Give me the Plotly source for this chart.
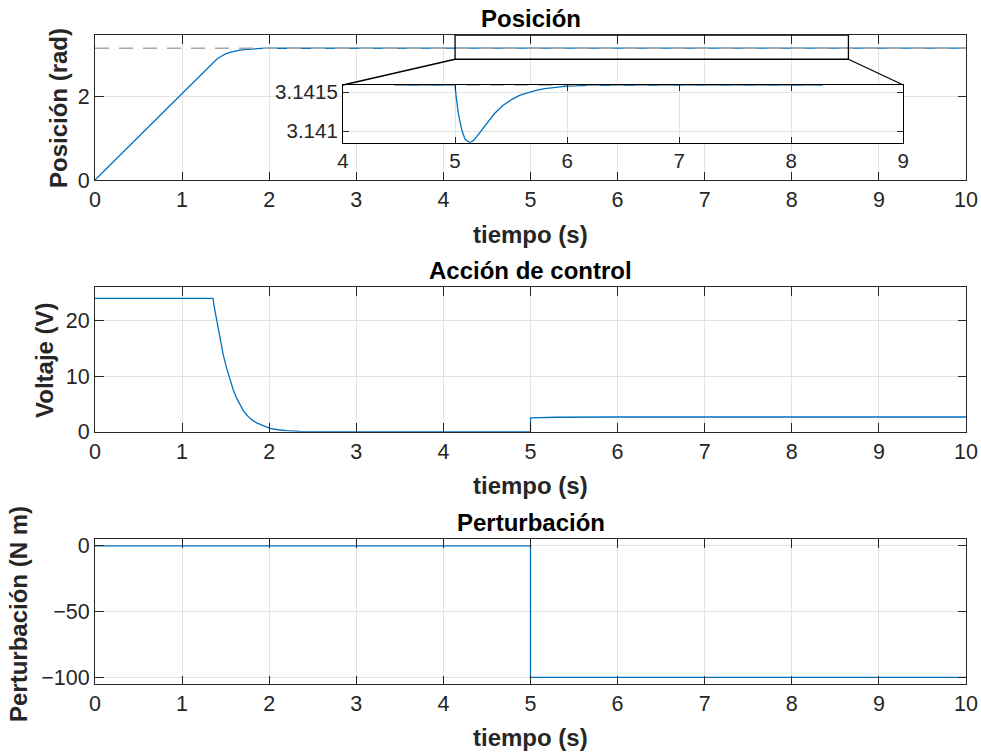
import plotly.graph_objects as go

# ---------------- data ----------------
pos_t = [0, 0.5, 1.0, 1.35, 1.40, 1.45, 1.50, 1.55, 1.60, 1.65,
         1.70, 1.80, 1.90, 2.00, 2.20, 2.50, 3.00, 4.00, 4.46, 5.00,
         5.01, 5.03, 5.06, 5.09, 5.13, 5.16, 5.19, 5.24, 5.28, 5.35,
         5.43, 5.50, 5.58, 5.65, 5.73, 5.80, 5.88, 6.00, 6.20, 6.50,
         7.00, 8.00, 8.28, 9.00, 10.0]
pos_rad = [0, 1.035, 2.07, 2.79, 2.885, 2.95, 3.005, 3.04, 3.07, 3.09,
           3.105, 3.125, 3.135, 3.1395, 3.1412, 3.14155, 3.1415927, 3.1415927, 3.1415927, 3.1415927,
           3.1414427, 3.1412227, 3.1410127, 3.1408927, 3.1408527, 3.1408727, 3.1409227, 3.1410127, 3.1410977, 3.1412227,
           3.1413327, 3.1414027, 3.1414627, 3.1414977, 3.1415277, 3.1415477, 3.1415627, 3.1415797, 3.1415887, 3.1415927,
           3.1415927, 3.1415927, 3.1415927, 3.1415927, 3.1415927]
ref_rad = 3.1415927

volt_t = [0, 1.355, 1.37, 1.397, 1.435, 1.473, 1.512, 1.55, 1.588, 1.627, 1.665,
          1.703, 1.74, 1.78, 1.82, 1.856, 1.932, 2.01, 2.1, 2.2, 2.35, 2.6, 3.0,
          5.0, 5.0, 5.3, 6.0, 10.0]
volt_v = [24, 24, 22.4, 20.1, 16.8, 13.8, 11.4, 9.3, 7.5, 6.0, 4.8,
          3.8, 3.05, 2.4, 1.95, 1.6, 1.1, 0.6, 0.35, 0.18, 0.07, 0.02, 0.0,
          0.0, 2.5, 2.6, 2.65, 2.65]

dist_t = [0, 5, 5, 10]
dist_nm = [0, 0, -100, -100]

x_ticks = [0, 1, 2, 3, 4, 5, 6, 7, 8, 9, 10]
pos_yticks = [0, 2]
volt_yticks = [0, 10, 20]
dist_yticks = [-100, -50, 0]
inset_xticks = [4, 5, 6, 7, 8, 9]
inset_yticks = [3.141, 3.1415]
inset_yticktext = ["3.141", "3.1415"]

titles = ["Posición", "Acción de control", "Perturbación"]
ylabels = ["Posición (rad)", "Voltaje (V)", "Perturbación (N m)"]
xlabel = "tiempo (s)"

zoom_box_x = [4.134, 8.65]
zoom_box_y = [2.878, 3.4558]
inset_data_t = [4.46, 8.28]

# ---------------- layout geometry ----------------
W, H = 981, 753
ML, MR, MT, MB = 95, 15, 35, 69
PH = H - MT - MB


def py(ypx):
    return (H - MB - ypx) / PH


def px(xpx):
    return (xpx - ML) / (W - ML - MR)


dom_top = [py(180), 1.0]
dom_mid = [py(431.7), py(287.3)]
dom_bot = [0.0, py(539.3)]
inset_dx = [px(343), px(903.3)]
inset_dy = [py(142.7), py(85)]

rng_top = [0, 3.4558]
rng_mid = [0, 26]
rng_bot = [-105, 5]
rng_x = [0, 10]
rng_inset_x = [4, 9]
rng_inset_y = [3.14085, 3.141594]

BLUE = "#0072BD"
GRAY = "#a6a6a6"
AX = "#262626"
FONT = "Liberation Sans, Arial, sans-serif"

fig = go.Figure()

# main position
fig.add_trace(go.Scatter(x=pos_t, y=pos_rad, mode="lines",
                         line=dict(color=BLUE, width=1.3), xaxis="x", yaxis="y", showlegend=False))
fig.add_trace(go.Scatter(x=[pos_t[0], pos_t[-1]], y=[ref_rad, ref_rad], mode="lines",
                         line=dict(color=GRAY, width=1.5, dash="14px,10px"),
                         xaxis="x", yaxis="y", showlegend=False))
# inset
it = [t for t in pos_t if inset_data_t[0] <= t <= inset_data_t[1]]
iv = [v for t, v in zip(pos_t, pos_rad) if inset_data_t[0] <= t <= inset_data_t[1]]
fig.add_trace(go.Scatter(x=it, y=iv, mode="lines",
                         line=dict(color=BLUE, width=1.3), xaxis="x4", yaxis="y4", showlegend=False))
fig.add_trace(go.Scatter(x=[it[0], it[-1]], y=[ref_rad, ref_rad], mode="lines",
                         line=dict(color=GRAY, width=1.5, dash="14px,10px"),
                         xaxis="x4", yaxis="y4", showlegend=False))
# voltage
fig.add_trace(go.Scatter(x=volt_t, y=volt_v, mode="lines",
                         line=dict(color=BLUE, width=1.3),
                         xaxis="x2", yaxis="y2", showlegend=False))
# disturbance
fig.add_trace(go.Scatter(x=dist_t, y=dist_nm, mode="lines",
                         line=dict(color=BLUE, width=1.3), xaxis="x3", yaxis="y3", showlegend=False))

common = dict(showline=True, linecolor=AX, linewidth=1, mirror="ticks", ticks="inside",
              ticklen=8.5, tickcolor=AX, tickwidth=1, showgrid=True, gridcolor="#e3e3e3",
              gridwidth=1, zeroline=False, automargin=False,
              tickfont=dict(family=FONT, size=21.5, color=AX))
inset_common = dict(showline=True, linecolor="#000000", linewidth=1.2, mirror="ticks", ticks="inside",
                    ticklen=6, tickcolor=AX, tickwidth=1, showgrid=True, gridcolor="#e3e3e3",
                    gridwidth=1, zeroline=False, automargin=False,
                    tickfont=dict(family=FONT, size=20.5, color=AX))

fig.update_layout(
    width=W, height=H, autosize=False,
    margin=dict(l=ML, r=MR, t=MT, b=MB, pad=0, autoexpand=False),
    paper_bgcolor="white", plot_bgcolor="white",
    showlegend=False,
    xaxis=dict(domain=[0, 1], range=rng_x, tickvals=x_ticks, anchor="y", **common),
    yaxis=dict(domain=dom_top, range=rng_top, tickvals=pos_yticks, anchor="x", **common),
    xaxis2=dict(domain=[0, 1], range=rng_x, tickvals=x_ticks, anchor="y2", **common),
    yaxis2=dict(domain=dom_mid, range=rng_mid, tickvals=volt_yticks, anchor="x2", **common),
    xaxis3=dict(domain=[0, 1], range=rng_x, tickvals=x_ticks, anchor="y3", **common),
    yaxis3=dict(domain=dom_bot, range=rng_bot, tickvals=dist_yticks, anchor="x3", **common),
    xaxis4=dict(domain=inset_dx, range=rng_inset_x, tickvals=inset_xticks, anchor="y4", **inset_common),
    yaxis4=dict(domain=inset_dy, range=rng_inset_y, tickvals=inset_yticks,
                ticktext=inset_yticktext, anchor="x4", **inset_common),
)

# zoom rectangle and connectors
fig.add_shape(type="rect", xref="x", yref="y", x0=zoom_box_x[0], x1=zoom_box_x[1],
              y0=zoom_box_y[0], y1=zoom_box_y[1], line=dict(color="#000000", width=1.3))


def to_paper_x(x):
    return (x - rng_x[0]) / (rng_x[1] - rng_x[0])


def to_paper_y(y):
    return dom_top[0] + (y - rng_top[0]) / (rng_top[1] - rng_top[0]) * (dom_top[1] - dom_top[0])


fig.add_shape(type="line", xref="paper", yref="paper",
              x0=to_paper_x(zoom_box_x[0]), y0=to_paper_y(zoom_box_y[0]),
              x1=inset_dx[0], y1=inset_dy[1], line=dict(color="#000000", width=1.3))
fig.add_shape(type="line", xref="paper", yref="paper",
              x0=to_paper_x(zoom_box_x[1]), y0=to_paper_y(zoom_box_y[0]),
              x1=inset_dx[1], y1=inset_dy[1], line=dict(color="#000000", width=1.3))

# titles and axis labels
title_font = dict(family=FONT, size=24, color="#000000")
label_font = dict(family=FONT, size=24, color=AX)
title_y = [18, 270, 522]
xlabel_y = [234, 486, 737]
ylabel_x = [59, 44, 18]
ylabel_yc = [108, 360, 614]
for i in range(3):
    fig.add_annotation(text="<b>%s</b>" % titles[i], xref="paper", yref="paper",
                       x=0.5, y=py(title_y[i]), xanchor="center", yanchor="middle",
                       showarrow=False, font=title_font)
    fig.add_annotation(text="<b>%s</b>" % xlabel, xref="paper", yref="paper",
                       x=0.5, y=py(xlabel_y[i]), xanchor="center", yanchor="middle",
                       showarrow=False, font=label_font)
    fig.add_annotation(text="<b>%s</b>" % ylabels[i], xref="paper", yref="paper",
                       x=px(ylabel_x[i]), y=py(ylabel_yc[i]), xanchor="center", yanchor="middle",
                       textangle=-90, showarrow=False, font=label_font)

fig.write_html("out.html")
